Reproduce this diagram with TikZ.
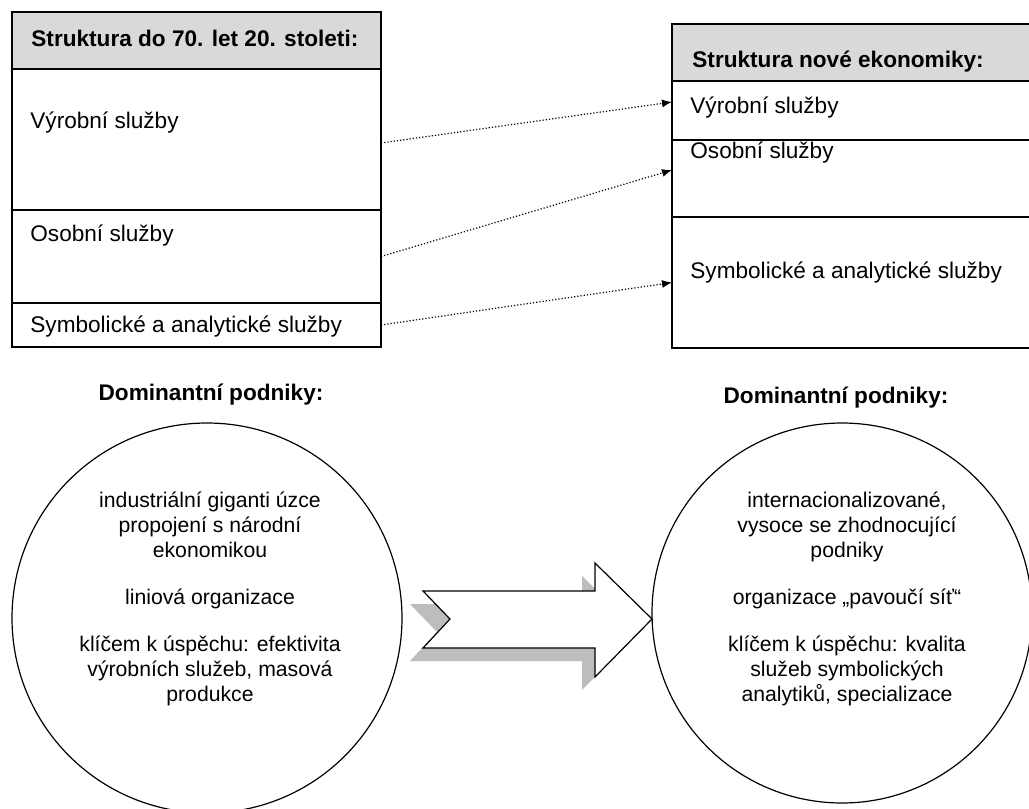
\documentclass[tikz,border=0pt]{standalone}
\usepackage{fontspec}
\setmainfont{Liberation Sans}
\usetikzlibrary{arrows.meta}
\definecolor{headgray}{HTML}{D9D9D9}
\definecolor{shadowgray}{HTML}{BDBDBD}

\begin{document}
\begin{tikzpicture}[x=0.5pt, y=-0.5pt,
    cell/.style={draw, line width=0.8pt, anchor=north west, inner sep=0pt, outer sep=0pt},
    lcell/.style={cell, minimum width=184.5pt},
    rcell/.style={cell, minimum width=180pt},
    head/.style={fill=headgray},
    txt/.style={anchor=west, inner sep=0pt, font=\fontsize{11.3}{13.5}\selectfont},
    htxt/.style={anchor=west, inner sep=0pt, font=\fontsize{11.3}{13.5}\selectfont\bfseries},
    dom/.style={inner sep=0pt, font=\fontsize{11.3}{13.5}\selectfont\bfseries},
    flow/.style={densely dotted, line width=0.6pt, -{Latex[length=5pt,width=4pt]}},
    circ/.style={draw, circle, line width=0.6pt, inner sep=0pt},
    ctxt/.style={align=center, inner sep=0pt, font=\fontsize{10.6}{12.5}\selectfont}]

    \clip (0,0) rectangle (1029,809);
    \fill[white] (0,0) rectangle (1029,809);

    % left table
    \node[lcell, head, minimum height=28.5pt] (lhead) at (12,12) {};
    \node[lcell, minimum height=70.5pt] (lv) at (12,69) {};
    \node[lcell, minimum height=46.5pt] (lo) at (12,210) {};
    \node[lcell, minimum height=22pt] (ls) at (12,303) {};
    \node[htxt] (lheadt) at (31,38) {Struktura do 70. let 20. stoleti:};
    \node[txt] (lvt) at (30,123) {Výrobní služby};
    \node[txt] (lot) at (30,236) {Osobní služby};
    \node[txt] (lst) at (30,327) {Symbolické a analytické služby};

    % right table
    \node[rcell, head, minimum height=28.5pt] (rhead) at (672,24) {};
    \node[rcell, minimum height=29.5pt] (rv) at (672,81) {};
    \node[rcell, minimum height=38.5pt] (ro) at (672,140) {};
    \node[rcell, minimum height=65.5pt] (rs) at (672,217) {};
    \node[htxt] (rheadt) at (692,62) {Struktura nové ekonomiky:};
    \node[txt] (rvt) at (690,108) {Výrobní služby};
    \node[txt] (rot) at (690,153) {Osobní služby};
    \node[txt] (rst) at (690,273) {Symbolické a analytické služby};

    \draw[flow] ([yshift=-1.75pt]lv.east) -- ([yshift=4.25pt]rv.west);
    \draw[flow] (lo.east) -- ([yshift=4.25pt]ro.west);
    \draw[flow] (ls.east) -- (rs.west);

    % podniky
    \node[dom] (ldom) at (211,395) {Dominantní podniky:};
    \node[dom] (rdom) at (836,398) {Dominantní podniky:};
    \node[circ, minimum size=195pt] (lcirc) at (207,618) {};
    \node[circ, minimum size=190pt] (rcirc) at (842,613) {};
    \node[ctxt] (lct) at (210,599) {industriální giganti úzce\\propojení s národní\\ekonomikou\\[11pt]liniová organizace\\[11pt]klíčem k úspěchu: efektivita\\výrobních služeb, masová\\produkce};
    \node[ctxt] (rct) at (847,599) {internacionalizované,\\vysoce se zhodnocující\\podniky\\[11pt]organizace „pavoučí síť“\\[11pt]klíčem k úspěchu: kvalita\\služeb symbolických\\analytiků, specializace};

    % big arrow with shadow
    \fill[shadowgray, shift={(-13,13)}] (423,591) -- (595,591) -- (595,563) -- (652,619) -- (595,677) -- (595,648) -- (423,648) -- (450,619) -- cycle;
    \draw[fill=white, line width=0.6pt] (423,591) -- (595,591) -- (595,563) -- (652,619) -- (595,677) -- (595,648) -- (423,648) -- (450,619) -- cycle;

\end{tikzpicture}
\end{document}
